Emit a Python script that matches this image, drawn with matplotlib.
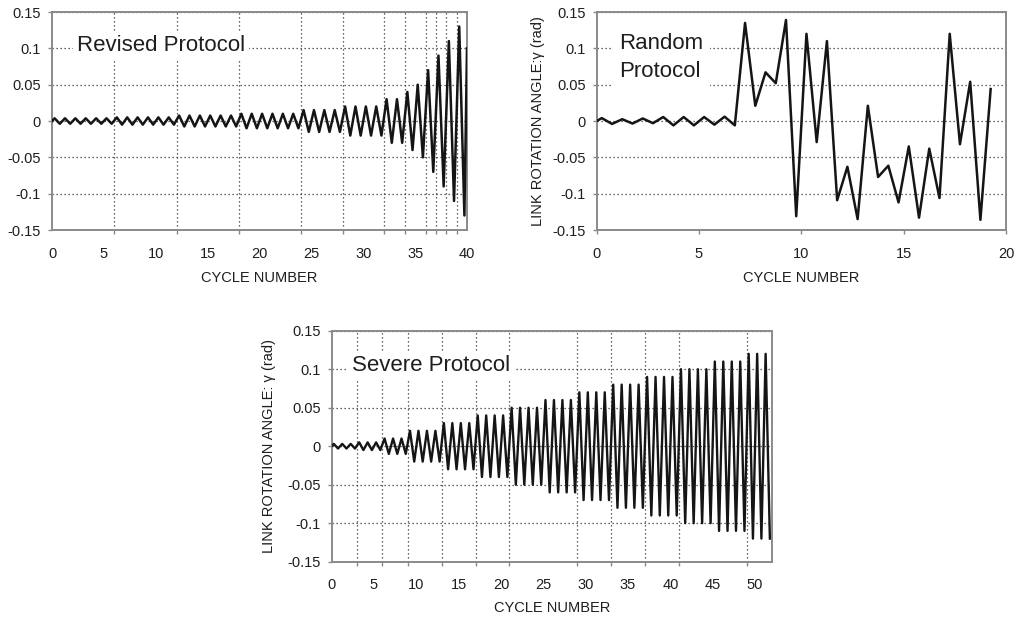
import numpy as np
import matplotlib
matplotlib.use("Agg")
import matplotlib.pyplot as plt
from matplotlib.ticker import FixedLocator, NullFormatter

plt.rcParams['font.family'] = ['Liberation Sans', 'DejaVu Sans']

# ---------------- data ----------------
# Revised protocol: amplitude (rad) of each loading group and number of cycles in it
revised_amplitudes = [0.00375, 0.005, 0.0075, 0.01, 0.015, 0.02, 0.03, 0.04, 0.05, 0.07, 0.09, 0.11, 0.13]
revised_cycles = [6, 6, 6, 6, 4, 4, 2, 1, 1, 1, 1, 1, 1]
revised_tail = (40.0, 0.10)  # last visible point at the right edge

# Random protocol: peak values read at half-cycle positions
random_cycle = [0.0, 0.25, 0.75, 1.25, 1.75, 2.25, 2.75, 3.25, 3.75, 4.25, 4.75,
                5.25, 5.75, 6.25, 6.75, 7.25, 7.75, 8.25, 8.75, 9.25, 9.75,
                10.25, 10.75, 11.25, 11.75, 12.25, 12.75, 13.25, 13.75, 14.25, 14.75,
                15.25, 15.75, 16.25, 16.75, 17.25, 17.75, 18.25, 18.75, 19.25]
random_angle = [0.0, 0.004, -0.004, 0.0025, -0.0035, 0.0035, -0.003, 0.0055, -0.006, 0.0055, -0.006,
                0.0055, -0.005, 0.006, -0.006, 0.135, 0.021, 0.067, 0.052, 0.139, -0.131,
                0.12, -0.029, 0.11, -0.109, -0.063, -0.135, 0.021, -0.077, -0.0615, -0.112,
                -0.035, -0.133, -0.038, -0.106, 0.12, -0.032, 0.054, -0.136, 0.044]

# Severe protocol: amplitude of each loading group and number of cycles in it
severe_amplitudes = [0.003, 0.005, 0.01, 0.02, 0.03, 0.04, 0.05, 0.06, 0.07, 0.08, 0.09, 0.10, 0.11, 0.12]
severe_cycles = [3, 3, 3, 4, 4, 4, 4, 4, 4, 4, 4, 4, 4, 3]

y_ticks = [-0.15, -0.1, -0.05, 0, 0.05, 0.1, 0.15]
y_ticklabels = ['-0.15', '-0.1', '-0.05', '0', '0.05', '0.1', '0.15']
x_label = 'CYCLE NUMBER'
y_label_top = 'LINK ROTATION ANGLE:\u03b3 (rad)'
y_label_bottom = 'LINK ROTATION ANGLE: \u03b3 (rad)'


def protocol_history(amps, counts):
    """Expand the loading groups into the peak sequence (+a, -a per cycle)."""
    xs, ys = [0.0], [0.0]
    c = 0
    for a, n in zip(amps, counts):
        for _ in range(n):
            xs += [c + 0.25, c + 0.75]
            ys += [a, -a]
            c += 1
    return xs, ys


# ---------------- styling ----------------
LINE = '#151515'
SPINE = '#8a8a8a'
GRID = dict(color='#333333', linestyle=(0, (1, 2.2)), linewidth=0.9)
TXT = '#1e1e1e'
FS = 10.5
TITLE_FS = 16


def style_axes(ax, xmax, xticks, group_edges=None):
    ax.set_xlim(0, xmax)
    ax.set_ylim(-0.15, 0.15)
    ax.set_yticks(y_ticks)
    ax.set_yticklabels(y_ticklabels)
    ax.set_xticks(xticks)
    ax.set_xticklabels([str(t) for t in xticks])
    for s in ax.spines.values():
        s.set_color(SPINE)
        s.set_linewidth(1.4)
    ax.tick_params(axis='y', length=3, width=1, color=SPINE, pad=5, labelsize=FS, labelcolor=TXT)
    ax.grid(True, axis='y', **GRID)
    if group_edges is not None:
        ax.xaxis.set_minor_locator(FixedLocator(group_edges))
        ax.xaxis.set_minor_formatter(NullFormatter())
        ax.grid(True, axis='x', which='minor', **GRID)
        ax.tick_params(axis='x', which='major', length=0, pad=12, labelsize=FS, labelcolor=TXT)
        ax.tick_params(axis='x', which='minor', length=3, width=1, color=SPINE)
    else:
        ax.tick_params(axis='x', which='major', length=3, width=1, color=SPINE, pad=9,
                       labelsize=FS, labelcolor=TXT)
    ax.set_axisbelow(True)
    ax.set_xlabel(x_label, fontsize=FS, color=TXT)


fig = plt.figure(figsize=(10.30, 6.19), dpi=100)
fig.patch.set_facecolor('white')

# Panel 1 : Revised protocol
ax1 = fig.add_axes([0.0505, 0.6284, 0.4029, 0.3522])
rx, ry = protocol_history(revised_amplitudes, revised_cycles)
rx.append(revised_tail[0]); ry.append(revised_tail[1])
edges1 = list(np.cumsum(revised_cycles)[:-1])
style_axes(ax1, 40, [0, 5, 10, 15, 20, 25, 30, 35, 40], edges1)
ax1.plot(rx, ry, color=LINE, lw=1.8, zorder=4, clip_on=True)
ax1.text(2.4, 0.104, 'Revised Protocol', fontsize=TITLE_FS, color=TXT, va='center', ha='left', zorder=3,
         bbox=dict(facecolor='white', edgecolor='none', pad=3.0))
ax1.xaxis.set_label_coords(0.5, -0.19)

# Panel 2 : Random protocol
ax2 = fig.add_axes([0.5793, 0.6284, 0.3974, 0.3522])
style_axes(ax2, 20, [0, 5, 10, 15, 20])
ax2.plot(random_cycle, random_angle, color=LINE, lw=1.8, zorder=4)
ax2.text(1.1, 0.087, 'Random\nProtocol', fontsize=TITLE_FS, color=TXT, va='center', ha='left', zorder=3,
         linespacing=1.45, bbox=dict(facecolor='white', edgecolor='none', pad=5))
ax2.set_ylabel(y_label_top, fontsize=FS, color=TXT)
ax2.yaxis.set_label_coords(-0.127, 0.5)
ax2.xaxis.set_label_coords(0.5, -0.19)

# Panel 3 : Severe protocol
ax3 = fig.add_axes([0.3220, 0.0926, 0.4275, 0.3731])
sx, sy = protocol_history(severe_amplitudes, severe_cycles)
edges3 = list(np.cumsum(severe_cycles)[:-1])
style_axes(ax3, 52, [0, 5, 10, 15, 20, 25, 30, 35, 40, 45, 50], edges3)
ax3.plot(sx, sy, color=LINE, lw=1.7, zorder=4)
ax3.text(2.4, 0.105, 'Severe Protocol', fontsize=TITLE_FS, color=TXT, va='center', ha='left', zorder=3,
         bbox=dict(facecolor='white', edgecolor='none', pad=3.0))
ax3.set_ylabel(y_label_bottom, fontsize=FS, color=TXT)
ax3.yaxis.set_label_coords(-0.127, 0.5)
ax3.xaxis.set_label_coords(0.5, -0.17)

fig.savefig('out.png', dpi=100, facecolor='white')
